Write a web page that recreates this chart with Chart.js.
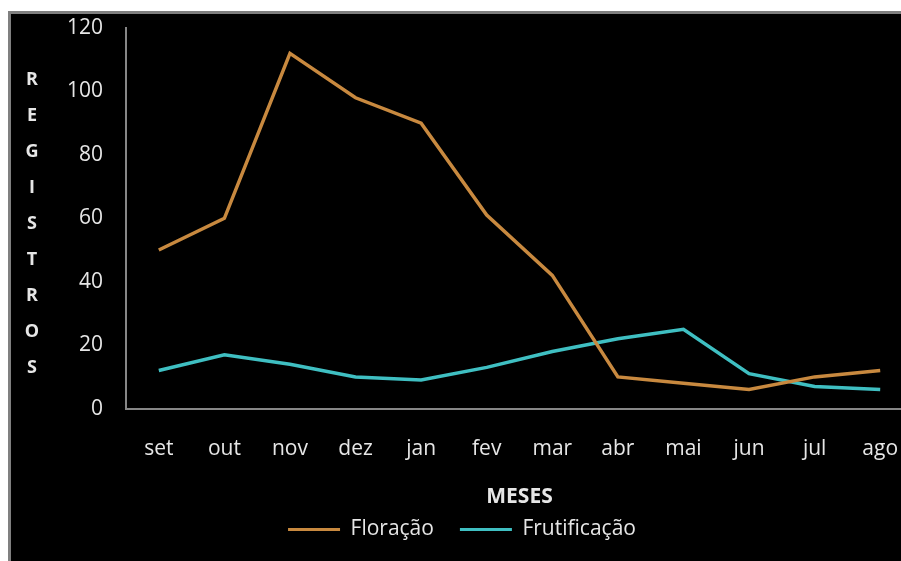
<!DOCTYPE html>
<html>
<head>
<meta charset="utf-8">
<script src="https://cdn.jsdelivr.net/npm/chart.js@4"></script>
<style>
  html, body { margin: 0; padding: 0; background: #fff; overflow: hidden; width: 901px; height: 561px; }
  #frame {
    position: absolute; left: 8px; top: 11px;
    width: 960px; height: 600px;
    background: #000;
    border-left: 3px solid #808080;
    border-top: 3px solid #808080;
  }
  #wrap { position: absolute; left: 0; top: 0; width: 908px; height: 536px; }
</style>
</head>
<body>
<div id="frame">
  <div id="wrap"><canvas id="chart"></canvas></div>
</div>
<script>
// ===== data =====
const months = ["set", "out", "nov", "dez", "jan", "fev", "mar", "abr", "mai", "jun", "jul", "ago"];
const floracao = [50, 60, 112, 98, 90, 61, 42, 10, 8, 6, 10, 12];
const frutificacao = [12, 17, 14, 10, 9, 13, 18, 22, 25, 11, 7, 6];
const yTitle = "REGISTROS";

const ORANGE = "#C8893F";
const TEAL = "#3FBFC2";
const AXIS = "#868686";
const TEXT = "#E6E6E6";
const FONT = "'Open Sans', 'DejaVu Sans', sans-serif";

// vertical stacked letters for the y title
const stackedTitle = {
  id: "stackedTitle",
  afterDraw(chart) {
    const c = chart.ctx;
    c.save();
    c.fillStyle = TEXT;
    c.font = "bold 18px " + FONT;
    c.textAlign = "center";
    c.textBaseline = "middle";
    yTitle.split("").forEach((ch, i) => c.fillText(ch, 21, 66 + i * 36));
    c.restore();
  }
};

// invisible tick marks are used as the gap between axis and labels
const hiddenGrid = (len) => ({
  display: true, color: "rgba(0,0,0,0)", drawOnChartArea: false, drawTicks: true, tickLength: len
});

const ctx = document.getElementById("chart");
new Chart(ctx, {
  type: "line",
  data: {
    labels: months,
    datasets: [
      { label: "Floração", data: floracao, borderColor: ORANGE, backgroundColor: ORANGE },
      { label: "Frutificação", data: frutificacao, borderColor: TEAL, backgroundColor: TEAL },
    ],
  },
  options: {
    responsive: true,
    maintainAspectRatio: false,
    animation: false,
    layout: { padding: { left: 0, right: 6, top: 14, bottom: 0 } },
    elements: {
      point: { radius: 0 },
      line: { borderWidth: 3.5, tension: 0 }
    },
    plugins: {
      legend: {
        position: "bottom",
        labels: {
          color: TEXT,
          font: { family: FONT, size: 21 },
          boxWidth: 52,
          boxHeight: 3,
          padding: 26,
          generateLabels(chart) {
            return Chart.defaults.plugins.legend.labels.generateLabels(chart)
              .map(l => ({ ...l, lineWidth: 0 }));
          }
        }
      },
      tooltip: { enabled: false }
    },
    scales: {
      x: {
        offset: true,
        grid: hiddenGrid(28),
        border: { display: true, color: AXIS, width: 2 },
        ticks: { color: TEXT, font: { family: FONT, size: 21 }, padding: 0, maxRotation: 0, autoSkip: false },
        title: {
          display: true,
          text: "MESES",
          color: TEXT,
          font: { family: FONT, size: 21, weight: "bold" },
          padding: { top: 23, bottom: -17 }
        }
      },
      y: {
        min: 0,
        max: 120,
        grid: hiddenGrid(23),
        border: { display: true, color: AXIS, width: 2 },
        ticks: { stepSize: 20, color: TEXT, font: { family: FONT, size: 21 }, padding: 0 },
        afterFit(scale) { scale.width = 115; }
      }
    }
  },
  plugins: [stackedTitle]
});
</script>
</body>
</html>
